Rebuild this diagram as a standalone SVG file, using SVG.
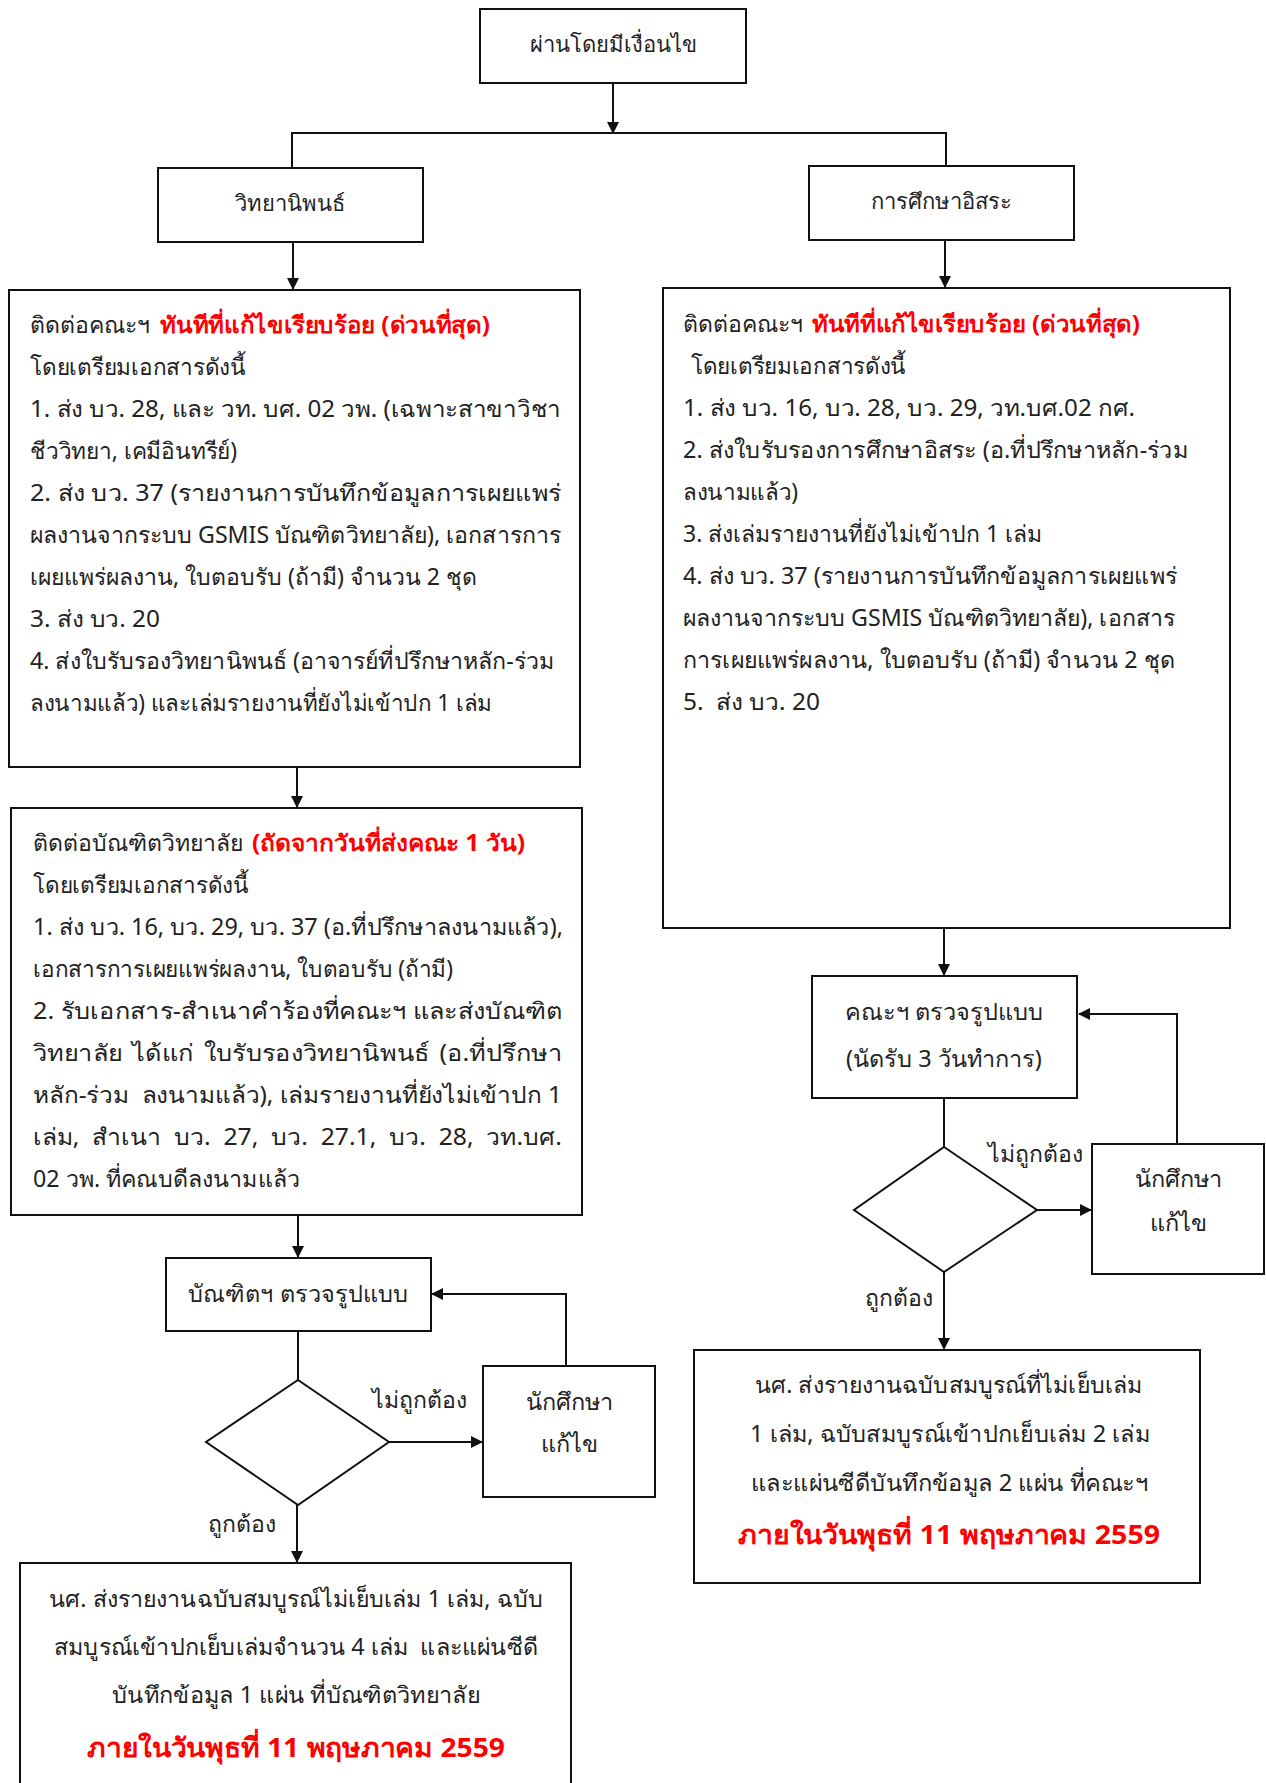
<svg xmlns="http://www.w3.org/2000/svg" width="1266" height="1783" viewBox="0 0 1266 1783">
<style>
text{font-family:"Noto Sans","DejaVu Sans",sans-serif;font-size:23px;fill:#222}
.s{font-size:22px}
.m{font-size:23.5px}
.c{text-anchor:middle}
.r{fill:#ff0000;font-weight:bold}
.big{font-size:27px}
.box{fill:#fff;stroke:#111;stroke-width:2}
.ln{fill:none;stroke:#111;stroke-width:2}
</style>
<defs>
<marker id="ah" markerWidth="12" markerHeight="12" refX="11" refY="6" orient="auto" markerUnits="userSpaceOnUse">
<path d="M0,0 L12,6 L0,12 z" fill="#111"/>
</marker>
</defs>
<rect width="1266" height="1783" fill="#fff"/>
<g id="connectors">
<path class="ln" d="M613,83 V133" marker-end="url(#ah)"/>
<path class="ln" d="M292,168 V133 H946 V166"/>
<path class="ln" d="M293,242 V289" marker-end="url(#ah)"/>
<path class="ln" d="M945,240 V287" marker-end="url(#ah)"/>
<path class="ln" d="M297,767 V807" marker-end="url(#ah)"/>
<path class="ln" d="M298,1215 V1257" marker-end="url(#ah)"/>
<path class="ln" d="M298,1331 V1380"/>
<path class="ln" d="M389,1442 H482" marker-end="url(#ah)"/>
<path class="ln" d="M566,1366 V1294 H432" marker-end="url(#ah)"/>
<path class="ln" d="M297,1505 V1562" marker-end="url(#ah)"/>
<path class="ln" d="M944,928 V975" marker-end="url(#ah)"/>
<path class="ln" d="M944,1098 V1147"/>
<path class="ln" d="M1037,1210 H1091" marker-end="url(#ah)"/>
<path class="ln" d="M1177,1144 V1014 H1079" marker-end="url(#ah)"/>
<path class="ln" d="M944,1272 V1349" marker-end="url(#ah)"/>
</g>
<g id="n-top"><rect class="box" x="480" y="9" width="266" height="74"/><text class="c s" x="613" y="52">ผ่านโดยมีเงื่อนไข</text></g>
<g id="n-thesis"><rect class="box" x="158" y="168" width="265" height="74"/><text class="c s" x="290" y="211">วิทยานิพนธ์</text></g>
<g id="n-is"><rect class="box" x="809" y="166" width="265" height="74"/><text class="c s" x="941" y="209">การศึกษาอิสระ</text></g>
<g id="n-faculty-left"><rect class="box" x="9" y="290" width="571" height="477"/>
<text x="30" y="333">ติดต่อคณะฯ</text><text class="r" x="160" y="333" textLength="330" lengthAdjust="spacingAndGlyphs">ทันทีที่แก้ไขเรียบร้อย (ด่วนที่สุด)</text>
<text x="30" y="375" textLength="216" lengthAdjust="spacingAndGlyphs">โดยเตรียมเอกสารดังนี้</text>
<text x="30" y="417" textLength="531" lengthAdjust="spacingAndGlyphs">1. ส่ง บว. 28, และ วท. บศ. 02 วพ. (เฉพาะสาขาวิชา</text>
<text x="30" y="459" textLength="207" lengthAdjust="spacingAndGlyphs">ชีววิทยา, เคมีอินทรีย์)</text>
<text x="30" y="501" textLength="531" lengthAdjust="spacingAndGlyphs">2. ส่ง บว. 37 (รายงานการบันทึกข้อมูลการเผยแพร่</text>
<text x="30" y="543" textLength="531" lengthAdjust="spacingAndGlyphs">ผลงานจากระบบ GSMIS บัณฑิตวิทยาลัย), เอกสารการ</text>
<text x="30" y="585" textLength="447" lengthAdjust="spacingAndGlyphs">เผยแพร่ผลงาน, ใบตอบรับ (ถ้ามี) จำนวน 2 ชุด</text>
<text x="30" y="627" textLength="130" lengthAdjust="spacingAndGlyphs">3. ส่ง บว. 20</text>
<text x="30" y="669" textLength="524" lengthAdjust="spacingAndGlyphs">4. ส่งใบรับรองวิทยานิพนธ์ (อาจารย์ที่ปรึกษาหลัก-ร่วม</text>
<text x="30" y="711" textLength="462" lengthAdjust="spacingAndGlyphs">ลงนามแล้ว) และเล่มรายงานที่ยังไม่เข้าปก 1 เล่ม</text>
</g>
<g id="n-faculty-right"><rect class="box" x="663" y="288" width="567" height="640"/>
<text x="683" y="332">ติดต่อคณะฯ</text><text class="r" x="812" y="332" textLength="328" lengthAdjust="spacingAndGlyphs">ทันทีที่แก้ไขเรียบร้อย (ด่วนที่สุด)</text>
<text x="691" y="374" textLength="215" lengthAdjust="spacingAndGlyphs">โดยเตรียมเอกสารดังนี้</text>
<text x="683" y="416" textLength="452" lengthAdjust="spacingAndGlyphs">1. ส่ง บว. 16, บว. 28, บว. 29, วท.บศ.02 กศ.</text>
<text x="683" y="458" textLength="505" lengthAdjust="spacingAndGlyphs">2. ส่งใบรับรองการศึกษาอิสระ (อ.ที่ปรึกษาหลัก-ร่วม</text>
<text x="683" y="500" textLength="115" lengthAdjust="spacingAndGlyphs">ลงนามแล้ว)</text>
<text x="683" y="542" textLength="359" lengthAdjust="spacingAndGlyphs">3. ส่งเล่มรายงานที่ยังไม่เข้าปก 1 เล่ม</text>
<text x="683" y="584" textLength="494" lengthAdjust="spacingAndGlyphs">4. ส่ง บว. 37 (รายงานการบันทึกข้อมูลการเผยแพร่</text>
<text x="683" y="626" textLength="492" lengthAdjust="spacingAndGlyphs">ผลงานจากระบบ GSMIS บัณฑิตวิทยาลัย), เอกสาร</text>
<text x="683" y="668" textLength="492" lengthAdjust="spacingAndGlyphs">การเผยแพร่ผลงาน, ใบตอบรับ (ถ้ามี) จำนวน 2 ชุด</text>
<text x="683" y="710" xml:space="preserve" textLength="137" lengthAdjust="spacingAndGlyphs">5.  ส่ง บว. 20</text>
</g>
<g id="n-grad"><rect class="box" x="11" y="808" width="571" height="407"/>
<text x="33" y="851">ติดต่อบัณฑิตวิทยาลัย</text><text class="r" x="252" y="851" textLength="273" lengthAdjust="spacingAndGlyphs">(ถัดจากวันที่ส่งคณะ 1 วัน)</text>
<text x="33" y="893" textLength="216" lengthAdjust="spacingAndGlyphs">โดยเตรียมเอกสารดังนี้</text>
<text x="33" y="935" textLength="530" lengthAdjust="spacingAndGlyphs">1. ส่ง บว. 16, บว. 29, บว. 37 (อ.ที่ปรึกษาลงนามแล้ว),</text>
<text x="33" y="977" textLength="420" lengthAdjust="spacingAndGlyphs">เอกสารการเผยแพร่ผลงาน, ใบตอบรับ (ถ้ามี)</text>
<text x="33" y="1019" textLength="529" lengthAdjust="spacingAndGlyphs">2. รับเอกสาร-สำเนาคำร้องที่คณะฯ และส่งบัณฑิต</text>
<text x="33" y="1061" textLength="529" lengthAdjust="spacingAndGlyphs" style="word-spacing:3px">วิทยาลัย ได้แก่ ใบรับรองวิทยานิพนธ์ (อ.ที่ปรึกษา</text>
<text x="33" y="1103" xml:space="preserve" textLength="529" lengthAdjust="spacingAndGlyphs">หลัก-ร่วม  ลงนามแล้ว), เล่มรายงานที่ยังไม่เข้าปก 1</text>
<text x="33" y="1145" textLength="529" lengthAdjust="spacingAndGlyphs" style="word-spacing:6px">เล่ม, สำเนา บว. 27, บว. 27.1, บว. 28, วท.บศ.</text>
<text x="33" y="1187" textLength="267" lengthAdjust="spacingAndGlyphs">02 วพ. ที่คณบดีลงนามแล้ว</text>
</g>
<g id="n-gradcheck"><rect class="box" x="166" y="1258" width="265" height="73"/><text class="c m" x="298" y="1302">บัณฑิตฯ ตรวจรูปแบบ</text></g>
<g id="n-dec-left"><path class="box" d="M298,1380 L389,1442 L298,1505 L206,1442 Z"/></g>
<g id="n-fix-left"><rect class="box" x="483" y="1366" width="172" height="131"/><text class="c m" x="569" y="1410">นักศึกษา</text><text class="c m" x="569" y="1452">แก้ไข</text></g>
<g id="lbl-left"><text x="372" y="1408">ไม่ถูกต้อง</text><text x="208" y="1532">ถูกต้อง</text></g>
<g id="n-final-left"><rect class="box" x="20" y="1563" width="551" height="240"/>
<text x="49" y="1607" textLength="494" lengthAdjust="spacingAndGlyphs">นศ. ส่งรายงานฉบับสมบูรณ์ไม่เย็บเล่ม 1 เล่ม, ฉบับ</text>
<text x="54" y="1655" xml:space="preserve" textLength="484" lengthAdjust="spacingAndGlyphs">สมบูรณ์เข้าปกเย็บเล่มจำนวน 4 เล่ม  และแผ่นซีดี</text>
<text x="112" y="1703" textLength="368" lengthAdjust="spacingAndGlyphs">บันทึกข้อมูล 1 แผ่น ที่บัณฑิตวิทยาลัย</text>
<text class="r big" x="87" y="1757" textLength="418" lengthAdjust="spacingAndGlyphs">ภายในวันพุธที่ 11 พฤษภาคม 2559</text>
</g>
<g id="n-faccheck"><rect class="box" x="812" y="976" width="265" height="122"/><text class="c m" x="944" y="1020">คณะฯ ตรวจรูปแบบ</text><text class="c m" x="944" y="1067">(นัดรับ 3 วันทำการ)</text></g>
<g id="n-dec-right"><path class="box" d="M944,1147 L1037,1210 L944,1272 L854,1210 Z"/></g>
<g id="n-fix-right"><rect class="box" x="1092" y="1144" width="172" height="130"/><text class="c m" x="1178" y="1187">นักศึกษา</text><text class="c m" x="1178" y="1231">แก้ไข</text></g>
<g id="lbl-right"><text x="988" y="1162">ไม่ถูกต้อง</text><text x="865" y="1306">ถูกต้อง</text></g>
<g id="n-final-right"><rect class="box" x="694" y="1350" width="506" height="233"/>
<text x="755" y="1393" textLength="387" lengthAdjust="spacingAndGlyphs">นศ. ส่งรายงานฉบับสมบูรณ์ที่ไม่เย็บเล่ม</text>
<text x="750" y="1442" textLength="400" lengthAdjust="spacingAndGlyphs">1 เล่ม, ฉบับสมบูรณ์เข้าปกเย็บเล่ม 2 เล่ม</text>
<text x="751" y="1491" textLength="397" lengthAdjust="spacingAndGlyphs">และแผ่นซีดีบันทึกข้อมูล 2 แผ่น ที่คณะฯ</text>
<text class="r big" x="738" y="1544" textLength="422" lengthAdjust="spacingAndGlyphs">ภายในวันพุธที่ 11 พฤษภาคม 2559</text>
</g>
</svg>
